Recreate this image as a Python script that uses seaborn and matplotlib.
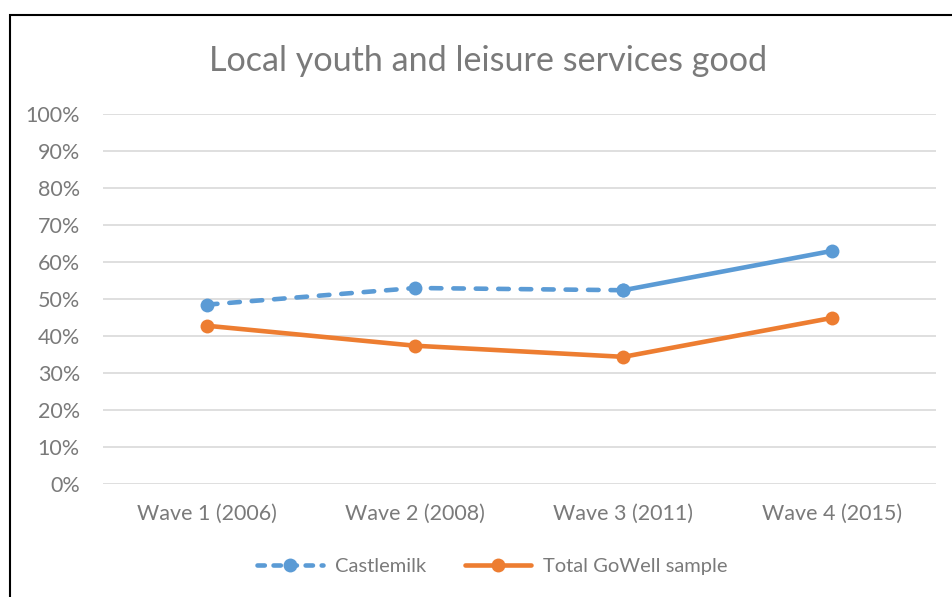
import matplotlib
matplotlib.use("Agg")
import matplotlib.pyplot as plt
import seaborn as sns
import pandas as pd
from matplotlib.lines import Line2D
from matplotlib.patches import Rectangle

waves = ["Wave 1 (2006)", "Wave 2 (2008)", "Wave 3 (2011)", "Wave 4 (2015)"]
castlemilk = [48.5, 53.0, 52.4, 63.0]
total = [42.8, 37.4, 34.4, 44.9]
yticks = [0, 10, 20, 30, 40, 50, 60, 70, 80, 90, 100]

blue = "#5b9bd5"
orange = "#ed7d31"
grey = "#7a7a7a"

sns.set_theme(style="white")
plt.rcParams["font.family"] = ["Lato", "DejaVu Sans"]

fig = plt.figure(figsize=(9.52, 5.97), dpi=100)
ax = fig.add_axes([0.108, 0.189, 0.875, 0.62])

df_c = pd.DataFrame({"x": list(range(len(waves))), "y": castlemilk})
df_t = pd.DataFrame({"x": list(range(len(waves))), "y": total})

lw = 3.3
ms = 10
dash = (0, (2.3, 2.6))
# Castlemilk dashed part (waves 1-3)
sns.lineplot(data=df_c.iloc[0:3], x="x", y="y", ax=ax, color=blue, lw=lw,
             marker="o", markersize=ms, markeredgewidth=0, zorder=3,
             dashes=False, linestyle=dash, dash_capstyle="round")
# Castlemilk solid part (waves 3-4)
sns.lineplot(data=df_c.iloc[2:4], x="x", y="y", ax=ax, color=blue, lw=lw,
             marker="o", markersize=ms, markeredgewidth=0, zorder=3,
             solid_capstyle="round")
sns.lineplot(data=df_t, x="x", y="y", ax=ax, color=orange, lw=lw,
             marker="o", markersize=ms, markeredgewidth=0, zorder=3,
             solid_capstyle="round")

ax.set_xlim(-0.5, len(waves) - 0.5)
ax.set_ylim(0, 100)
ax.set_yticks(yticks)
ax.set_yticklabels([f"{v}%" for v in yticks])
ax.set_xticks(range(len(waves)))
ax.set_xticklabels(waves)
ax.set_xlabel("")
ax.set_ylabel("")
for v in yticks:
    ax.axhline(v, color="#d9d9d9", lw=1.2, zorder=1)
for s in ax.spines.values():
    s.set_visible(False)
ax.tick_params(axis="both", length=0, labelsize=15.5, colors=grey)
ax.tick_params(axis="y", pad=16.5)
ax.tick_params(axis="x", pad=14)

fig.text(0.513, 0.898, "Local youth and leisure services good", ha="center",
         va="center", fontsize=24.6, color=grey)

handles = [
    Line2D([0], [0], color=blue, lw=lw, marker="o", markersize=ms,
           markeredgewidth=0, linestyle=(0, (1.6, 1.9)), dash_capstyle="round"),
    Line2D([0], [0], color=orange, lw=lw, marker="o", markersize=ms,
           markeredgewidth=0, solid_capstyle="round"),
]
leg = fig.legend(handles, ["Castlemilk", "Total GoWell sample"], loc="center",
                 bbox_to_anchor=(0.517, 0.051), ncol=2, frameon=False,
                 fontsize=14.5, handlelength=3.3, columnspacing=1.9,
                 handletextpad=0.6)
for t in leg.get_texts():
    t.set_color(grey)

fig.patches.append(Rectangle((0.0105, -0.1), 1.1, 1.075, transform=fig.transFigure,
                             fill=False, edgecolor="black", lw=1.5))

fig.savefig("out.png", dpi=100, facecolor="white")
